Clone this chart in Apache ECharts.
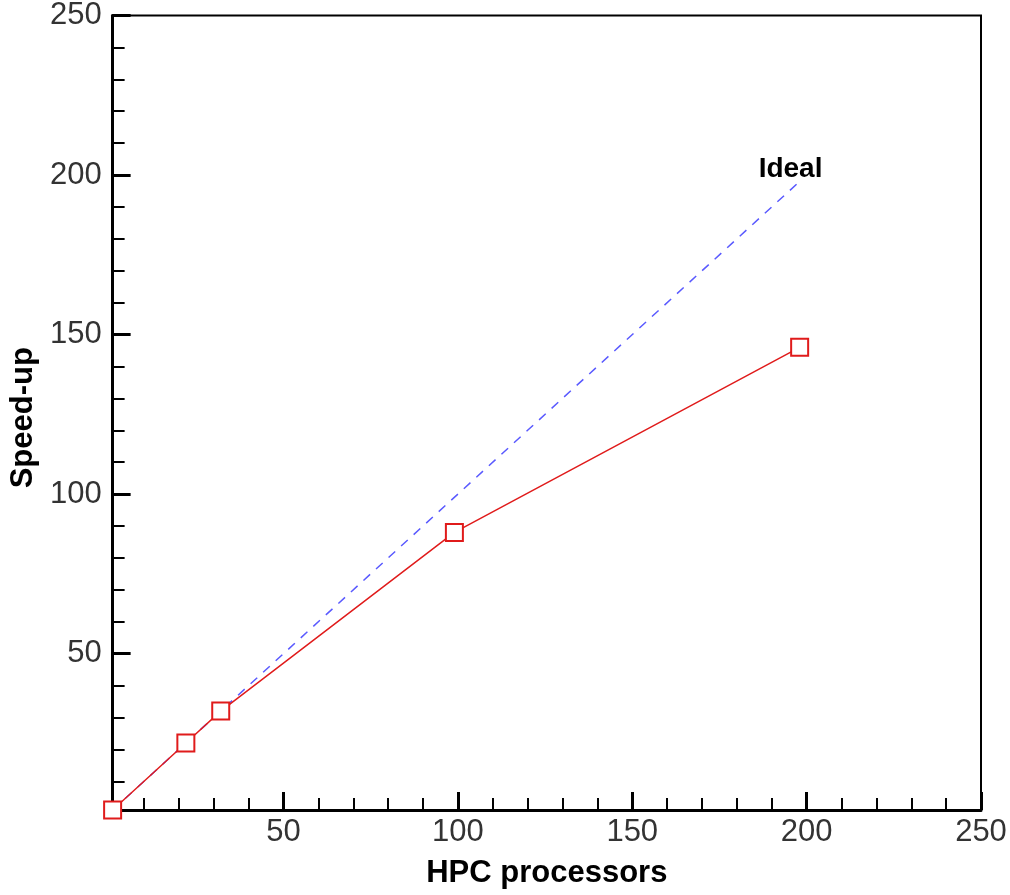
<!DOCTYPE html>
<html>
<head>
<meta charset="utf-8">
<script src="https://cdn.jsdelivr.net/npm/echarts@6/dist/echarts.min.js"></script>
<style>html,body{margin:0;padding:0;background:#fff;}#c{width:1010px;height:895px;}</style>
</head>
<body>
<div id="c"></div>
<script>
const processors = [1, 22, 32, 99, 198];
const speedup = [1, 22, 32, 88, 146];
const idealX = [1, 198];
const idealY = [1, 198];
const xTicks = [50, 100, 150, 200, 250];
const yTicks = [50, 100, 150, 200, 250];
const xMinorTicks = [10, 20, 30, 40, 60, 70, 80, 90, 110, 120, 130, 140, 160, 170, 180, 190, 210, 220, 230, 240];
const yMinorTicks = [10, 20, 30, 40, 60, 70, 80, 90, 110, 120, 130, 140, 160, 170, 180, 190, 210, 220, 230, 240];
const xName = 'HPC processors';
const yName = 'Speed-up';
const idealLabel = 'Ideal';

const chart = echarts.init(document.getElementById('c'), null, {renderer: 'canvas'});
const font = 'Liberation Sans, Arial, sans-serif';
const measured = processors.map((p, i) => [p, speedup[i]]);
const ideal = idealX.map((p, i) => [p, idealY[i]]);
const AMIN = 1, AMAX = 250;

function majorAxis(name, ticks, extra) {
  return Object.assign({
    type: 'value', min: AMIN, max: AMAX,
    name: name, nameLocation: 'middle',
    axisLine: {show: true, onZero: false, lineStyle: {color: '#000', width: 3}},
    axisTick: {show: true, inside: true, length: 18, customValues: ticks, lineStyle: {color: '#000', width: 3}},
    splitLine: {show: false}
  }, extra);
}
function minorAxis(ticks, pos) {
  return {
    type: 'value', min: AMIN, max: AMAX, position: pos, offset: 0,
    axisLine: {show: false, onZero: false},
    axisTick: {show: true, inside: true, length: 12, customValues: ticks, lineStyle: {color: '#000', width: 2}},
    axisLabel: {show: false},
    splitLine: {show: false}
  };
}
const labelStyle = {fontFamily: font, fontSize: 31, color: '#333'};

chart.setOption({
  animation: false,
  backgroundColor: '#fff',
  grid: {left: 109, right: 29, top: 14, bottom: 85, show: true, borderColor: '#000', borderWidth: 2},
  xAxis: [
    majorAxis(xName, xTicks, {
      position: 'bottom', nameGap: 48,
      nameTextStyle: {fontFamily: font, fontSize: 31, fontWeight: 'bold', color: '#000'},
      axisLabel: Object.assign({margin: 7, customValues: xTicks}, labelStyle)
    }),
    minorAxis(xMinorTicks, 'bottom')
  ],
  yAxis: [
    majorAxis(yName, yTicks, {
      position: 'left', nameGap: 54,
      nameTextStyle: {fontFamily: font, fontSize: 31, fontWeight: 'bold', color: '#000', padding: [0, 10, 0, 0]},
      axisLabel: Object.assign({margin: 11, customValues: yTicks}, labelStyle)
    }),
    minorAxis(yMinorTicks, 'left')
  ],
  series: [
    {
      type: 'line', data: ideal, symbol: 'none', z: 2,
      lineStyle: {color: '#5a5aff', width: 1.5, type: [9, 8]},
      endLabel: {show: true, formatter: idealLabel, fontFamily: font, fontSize: 28, fontWeight: 'bold', color: '#000', distance: 0, offset: [-41, -12]}
    },
    {
      type: 'line', data: measured, z: 3,
      symbol: 'rect', symbolSize: 17,
      lineStyle: {color: '#e01b1b', width: 1.5},
      itemStyle: {color: '#fff', borderColor: '#e01b1b', borderWidth: 2}
    }
  ]
});
</script>
</body>
</html>
